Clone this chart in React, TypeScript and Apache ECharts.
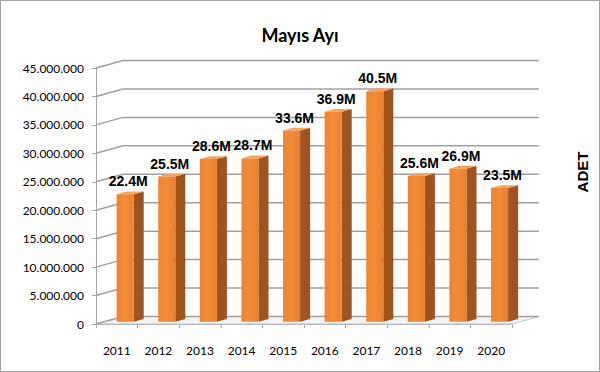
import React, { useEffect, useRef } from "react";
import * as echarts from "echarts";

const categories = ["2011", "2012", "2013", "2014", "2015", "2016", "2017", "2018", "2019", "2020"];
const valuesM = [22.4, 25.5, 28.6, 28.7, 33.6, 36.9, 40.5, 25.6, 26.9, 23.5];
const yTicks = [0, 5e6, 10e6, 15e6, 20e6, 25e6, 30e6, 35e6, 40e6, 45e6];
const titleText = "Mayıs Ayı";
const yAxisName = "ADET";

const DEPTH_X = 27;
const DEPTH_Y = -7.5;

function fmtDots(v: number): string {
  return String(Math.round(v)).replace(/\B(?=(\d{3})+(?!\d))/g, ".");
}

export default function App() {
  const ref = useRef<HTMLDivElement>(null);
  useEffect(() => {
    document.body.style.margin = "0";
    const chart = echarts.init(ref.current!, null, { renderer: "svg" });
    const barData = valuesM.map((v, i) => [i, v * 1e6]);
    const gridData = yTicks.map((v) => [0, v]);
    chart.setOption({
      animation: false,
      backgroundColor: "#ffffff",
      title: {
        text: titleText,
        left: "center",
        top: 21,
        textStyle: { fontFamily: "Lato", fontSize: 18, fontWeight: "bold", color: "#000" },
      },
      grid: { left: 96, right: 88, top: 68, bottom: 48, containLabel: false },
      xAxis: {
        type: "category",
        data: categories,
        boundaryGap: true,
        axisLine: { show: true, lineStyle: { color: "#a6a6a6", width: 1 } },
        axisTick: { show: true, length: 4, interval: 0, lineStyle: { color: "#a6a6a6" } },
        axisLabel: { interval: 0, margin: 20, fontFamily: "Lato", fontSize: 12, color: "#000" },
        splitLine: { show: false },
      },
      yAxis: {
        type: "value",
        min: 0,
        max: 45e6,
        interval: 5e6,
        axisLine: { show: true, lineStyle: { color: "#a6a6a6", width: 1 } },
        axisTick: { show: true, length: 4, lineStyle: { color: "#a6a6a6" } },
        axisLabel: {
          margin: 12,
          fontFamily: "Lato",
          fontSize: 12,
          color: "#000",
          formatter: (v: number) => fmtDots(v),
        },
        splitLine: { show: false },
      },
      series: [
        {
          type: "custom",
          z: 1,
          clip: false,
          silent: true,
          data: gridData,
          renderItem: (params: any, api: any) => {
            const cs = params.coordSys;
            const v = api.value(1);
            const p = api.coord([0, v]);
            const y = p[1];
            const x0 = cs.x;
            const x1 = cs.x + cs.width;
            const children: any[] = [];
            const ls = { stroke: "#a0a0a0", lineWidth: 1.5 };
            if (v === 0) {
              children.push({
                type: "polygon",
                shape: {
                  points: [
                    [x0, y],
                    [x1, y],
                    [x1 + DEPTH_X, y + DEPTH_Y],
                    [x0 + DEPTH_X, y + DEPTH_Y],
                  ],
                },
                style: { fill: "#f4f4f4", stroke: "#c8c8c8", lineWidth: 1 },
              });
            }
            children.push({
              type: "line",
              shape: { x1: x0, y1: y, x2: x0 + DEPTH_X, y2: y + DEPTH_Y },
              style: ls,
            });
            children.push({
              type: "line",
              shape: { x1: x0 + DEPTH_X, y1: y + DEPTH_Y, x2: x1 + DEPTH_X, y2: y + DEPTH_Y },
              style: ls,
            });
            return { type: "group", children };
          },
        },
        {
          type: "custom",
          z: 3,
          clip: false,
          silent: true,
          data: barData,
          renderItem: (params: any, api: any) => {
            const idx = api.value(0);
            const v = api.value(1);
            const top = api.coord([idx, v]);
            const base = api.coord([idx, 0]);
            const band = api.size([1, 0])[0];
            const w = band * 0.41;
            const off = 0.31;
            const cx = top[0] + DEPTH_X * off;
            const L = cx - w / 2;
            const R = cx + w / 2;
            const ty = top[1] + DEPTH_Y * off;
            const by = base[1] + DEPTH_Y * off;
            const dx = 10;
            const dy = -2.8;
            return {
              type: "group",
              children: [
                {
                  type: "polygon",
                  shape: { points: [[R, ty], [R + dx, ty + dy], [R + dx, by + dy], [R, by]] },
                  style: { fill: "#a0521f" },
                },
                {
                  type: "polygon",
                  shape: { points: [[L, ty], [R, ty], [R + dx, ty + dy], [L + dx, ty + dy]] },
                  style: { fill: "#f5a25a" },
                },
                {
                  type: "rect",
                  shape: { x: L, y: ty, width: w, height: by - ty },
                  style: {
                    fill: new echarts.graphic.LinearGradient(0, 0, 1, 0, [
                      { offset: 0, color: "#ee8430" },
                      { offset: 0.5, color: "#f28d3a" },
                      { offset: 1, color: "#e97f2c" },
                    ]),
                  },
                },
                {
                  type: "text",
                  x: cx + 3,
                  y: ty - 13,
                  style: {
                    text: (v / 1e6).toFixed(1) + "M",
                    align: "center",
                    verticalAlign: "middle",
                    fontFamily: "Liberation Sans",
                    fontWeight: "bold",
                    fontSize: 14,
                    fill: "#000",
                  },
                },
              ],
            };
          },
        },
      ],
      graphic: [
        {
          type: "text",
          x: 582,
          y: 172,
          rotation: Math.PI / 2,
          style: {
            text: yAxisName,
            align: "center",
            verticalAlign: "middle",
            fontFamily: "Liberation Sans",
            fontWeight: "bold",
            fontSize: 15,
            fill: "#000",
          },
        },
        {
          type: "rect",
          shape: { x: 0.5, y: 0.5, width: 599, height: 371 },
          style: { fill: "none", stroke: "#a0a0a0", lineWidth: 1 },
          z: 100,
        },
      ],
    });
    return () => chart.dispose();
  }, []);
  return (
    <div
      ref={ref}
      style={{ width: 600, height: 372, position: "absolute", left: 0, top: 0 }}
    />
  );
}
